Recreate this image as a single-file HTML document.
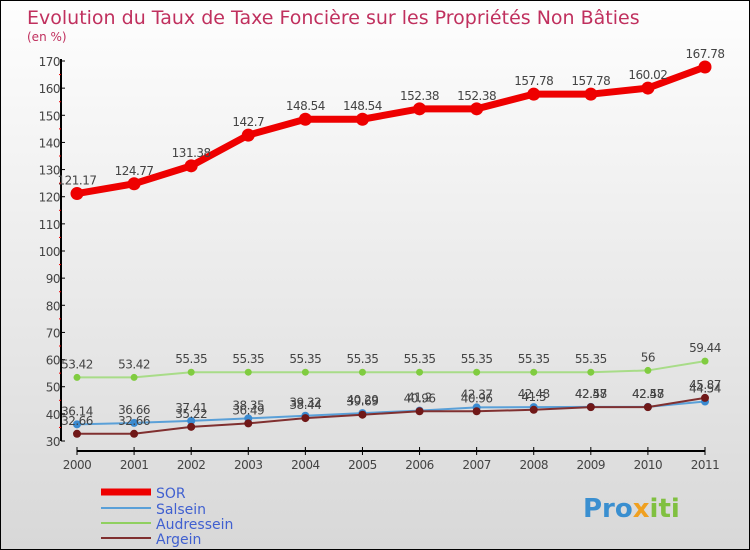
<!DOCTYPE html>
<html><head><meta charset="utf-8"><style>
body{margin:0}
#c{width:750px;height:550px;position:relative;background:linear-gradient(#fefefe,#d8d8d8);border:1px solid #000;box-sizing:border-box;overflow:hidden;font-family:"DejaVu Sans","Liberation Sans",sans-serif}
text{font-family:"DejaVu Sans","Liberation Sans",sans-serif}
</style></head><body>
<div id="c">
<svg id="s" width="750" height="550">
<text x="26" y="23" font-size="19" fill="#c0305e">Evolution du Taux de Taxe Foncière sur les Propriétés Non Bâties</text>
<text x="26" y="40" font-size="12" fill="#c0305e">(en %)</text>
<g id="ax"></g><g id="ser"></g>
<g>
<line x1="100" y1="491" x2="150" y2="491" stroke="#e00" stroke-width="7"/>
<text x="155" y="497" font-size="14" fill="#4060d0">SOR</text>
<line x1="100" y1="507" x2="150" y2="507" stroke="#5aa0d8" stroke-width="2"/>
<text x="155" y="513" font-size="14" fill="#4060d0">Salsein</text>
<line x1="100" y1="522" x2="150" y2="522" stroke="#90d060" stroke-width="2"/>
<text x="155" y="528" font-size="14" fill="#4060d0">Audressein</text>
<line x1="100" y1="537" x2="150" y2="537" stroke="#803030" stroke-width="2"/>
<text x="155" y="543" font-size="14" fill="#4060d0">Argein</text>
</g>
<text x="582" y="516" font-size="26" font-weight="bold" fill="#3a8fd0">Pro<tspan fill="#f0a020">x</tspan><tspan fill="#80c040">iti</tspan></text>
</svg></div>
<script>
const years=[2000,2001,2002,2003,2004,2005,2006,2007,2008,2009,2010,2011];
const sor=[121.17,124.77,131.38,142.7,148.54,148.54,152.38,152.38,157.78,157.78,160.02,167.78];
const salsein=[36.14,36.66,37.41,38.35,39.32,40.29,41.2,42.37,42.48,42.57,42.57,44.54];
const audressein=[53.42,53.42,55.35,55.35,55.35,55.35,55.35,55.35,55.35,55.35,56,59.44];
const argein=[32.66,32.66,35.22,36.49,38.44,39.69,40.96,40.96,41.5,42.48,42.48,45.87];
const yTicks=[30,40,50,60,70,80,90,100,110,120,130,140,150,160,170];
const NS="http://www.w3.org/2000/svg";
const X=i=>76+i*(704-76)/11, Y=v=>440-(v-30)*380/140;
function mk(t,a,p){const e=document.createElementNS(NS,t);for(const k in a)e.setAttribute(k,a[k]);p.appendChild(e);return e;}
const ax=document.getElementById('ax'),ser=document.getElementById('ser');
let e=mk('line',{x1:60,y1:58,x2:60,y2:440,stroke:'#000','stroke-width':2},ax);

e=mk('line',{x1:76,y1:450,x2:704,y2:450,stroke:'#000','stroke-width':2},ax);

yTicks.forEach((v,i)=>{
 mk('line',{x1:60,y1:Y(v),x2:64,y2:Y(v),stroke:'#000'},ax);
 if(i<yTicks.length-1)mk('line',{x1:58,y1:Y(v+5),x2:60,y2:Y(v+5),stroke:'#e00'},ax);
 const t=mk('text',{x:59,y:Y(v)+5,'text-anchor':'end','font-size':12,fill:'#444','letter-spacing':'-0.5'},ax);t.textContent=v;
 
});
years.forEach((y,i)=>{
 mk('line',{x1:X(i),y1:446,x2:X(i),y2:454,stroke:'#000'},ax);
 const t=mk('text',{x:X(i),y:468,'text-anchor':'middle','font-size':12,fill:'#444','letter-spacing':'-0.5'},ax);t.textContent=y;
 
});
function series(d,name,col,w,r,dot){
 const p=mk('polyline',{points:d.map((v,i)=>X(i)+','+Y(v)).join(' '),fill:'none',stroke:col,'stroke-width':w},ser);
 
 d.forEach((v,i)=>{
  const c=mk('circle',{cx:X(i),cy:Y(v),r:r,fill:dot},ser);
  
  const t=mk('text',{x:X(i),y:Y(v)-9,'text-anchor':'middle','font-size':12,fill:'#444','letter-spacing':'-0.5'},ser);t.textContent=v;
  
 });
}
series(audressein,'audressein','#a8dc88',2,3.5,'#80cc40');
series(salsein,'salsein','#5aa0d8',2,4,'#3a8ad0');
series(argein,'argein','#803030',2,4,'#701818');
series(sor,'sor','#ee0000',7,6.5,'#ee0000');
</script></body></html>
